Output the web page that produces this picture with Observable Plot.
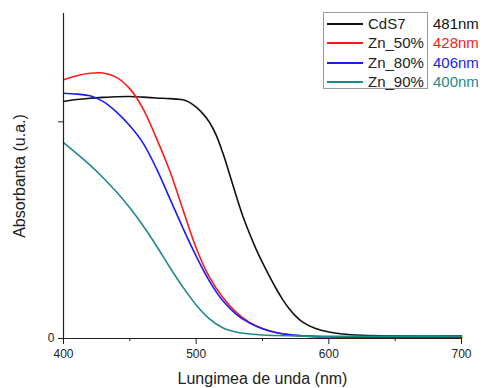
<!DOCTYPE html>
<html>
<head>
<meta charset="utf-8">
<script src="https://cdn.jsdelivr.net/npm/d3@7"></script>
<script src="https://cdn.jsdelivr.net/npm/@observablehq/plot@0.6"></script>
<style>
  html, body { margin: 0; padding: 0; background: #fff; }
  #wrap { position: relative; width: 485px; height: 388px; font-family: "Liberation Sans", Arial, sans-serif; }
  #legend { position: absolute; left: 323px; top: 12px; width: 105px; height: 77px; border: 1px solid #9a9a9a; box-sizing: border-box; }
  .row { position: absolute; left: 0; height: 19px; width: 200px; font-size: 15px; line-height: 19px; }
  .sw { position: absolute; left: 3px; top: 9px; width: 36px; height: 2px; }
  .nm { position: absolute; left: 44px; top: 0; color: #222; white-space: nowrap; }
  .pk { position: absolute; left: 109px; top: 0; white-space: nowrap; }
</style>
</head>
<body>
<div id="wrap"></div>
<script>
// Series names, colours and band-gap labels
const seriesNames = ["CdS7", "Zn_50%", "Zn_80%", "Zn_90%"];
const seriesColors = ["#111111", "#ff1a1a", "#1a1aff", "#1f8a8a"];
const peakLabels = ["481nm", "428nm", "406nm", "400nm"];

// CdS7
const wlCdS7 = [400, 410, 420, 430, 440, 450, 460, 470, 480, 490, 495, 500, 505, 510, 515, 520, 525, 530, 535, 540, 545, 550, 555, 560, 565, 570, 575, 580, 590, 600, 610, 625, 650, 700];
const absCdS7 = [1.094, 1.103, 1.109, 1.113, 1.116, 1.117, 1.114, 1.110, 1.107, 1.102, 1.090, 1.068, 1.038, 0.998, 0.940, 0.858, 0.762, 0.662, 0.568, 0.488, 0.415, 0.350, 0.290, 0.233, 0.182, 0.138, 0.103, 0.077, 0.046, 0.030, 0.021, 0.015, 0.012, 0.012];

// Zn_50%
const wlZn50 = [400, 410, 420, 430, 440, 450, 460, 470, 480, 490, 500, 510, 520, 530, 540, 550, 560, 570, 585, 600, 650, 700];
const absZn50 = [1.194, 1.213, 1.224, 1.225, 1.205, 1.152, 1.060, 0.925, 0.775, 0.595, 0.418, 0.283, 0.190, 0.122, 0.075, 0.046, 0.028, 0.017, 0.010, 0.007, 0.005, 0.005];

// Zn_80%
const wlZn80 = [400, 410, 420, 430, 440, 450, 460, 470, 480, 490, 500, 510, 520, 530, 540, 550, 560, 570, 585, 600, 650, 700];
const absZn80 = [1.132, 1.128, 1.120, 1.093, 1.045, 0.982, 0.902, 0.785, 0.648, 0.510, 0.380, 0.265, 0.175, 0.113, 0.072, 0.045, 0.028, 0.018, 0.011, 0.008, 0.007, 0.007];

// Zn_90%
const wlZn90 = [400, 410, 420, 430, 440, 450, 460, 470, 480, 490, 500, 510, 520, 530, 540, 550, 575, 600, 650, 700];
const absZn90 = [0.904, 0.853, 0.800, 0.741, 0.676, 0.603, 0.520, 0.428, 0.330, 0.237, 0.155, 0.091, 0.050, 0.030, 0.021, 0.016, 0.012, 0.010, 0.011, 0.011];

const xMajor = [400, 500, 600, 700];
const xMinor = [450, 550, 650];
const yTicks = [0, 1];

const wls = [wlCdS7, wlZn50, wlZn80, wlZn90];
const abss = [absCdS7, absZn50, absZn80, absZn90];
const rows = [];
seriesNames.forEach((s, i) => wls[i].forEach((w, j) => rows.push({series: s, wl: w, abs: abss[i][j]})));

const font = "Liberation Sans, Arial, sans-serif";
const chart = Plot.plot({
  width: 485,
  height: 388,
  marginLeft: 63,
  marginRight: 24,
  marginTop: 13,
  marginBottom: 50,
  style: {fontFamily: font, background: "#fff", color: "#222"},
  x: {domain: [400, 700]},
  y: {domain: [0, 1.5]},
  color: {domain: seriesNames, range: seriesColors},
  marks: [
    Plot.line(rows, {x: "wl", y: "abs", z: "series", stroke: "series", curve: "catmull-rom", strokeWidth: 1.6}),
    Plot.ruleX([400], {stroke: "#222", strokeWidth: 1.2}),
    Plot.ruleY([0], {stroke: "#222", strokeWidth: 1.2}),
    Plot.axisX({ticks: xMajor, tickSize: 6, tickPadding: 5, fontSize: 12, label: "Lungimea de unda (nm)", labelAnchor: "center", labelArrow: "none", labelOffset: 45, stroke: "#222"}),
    Plot.axisX({ticks: xMinor, tickSize: 3, tickFormat: () => "", label: null, stroke: "#222"}),
    Plot.axisY({ticks: yTicks, tickSize: 5, tickPadding: 4, fontSize: 12, tickFormat: d => d === 0 ? "0" : "", label: "Absorbanta (u.a.)", labelAnchor: "center", labelArrow: "none", labelOffset: 50, stroke: "#222"})
  ]
});
// make axis titles larger
chart.querySelectorAll("g[aria-label='x-axis label'], g[aria-label='y-axis label']").forEach(g => g.setAttribute("font-size", 16));
chart.querySelectorAll("g[aria-label='x-axis label'] text, g[aria-label='y-axis label'] text").forEach(t => t.setAttribute("font-size", 16));

const wrap = document.getElementById("wrap");
wrap.appendChild(chart);

const legend = document.createElement("div");
legend.id = "legend";
seriesNames.forEach((s, i) => {
  const r = document.createElement("div");
  r.className = "row";
  r.style.top = (1 + i * 19.4) + "px";
  r.innerHTML = `<div class="sw" style="background:${seriesColors[i]}"></div><span class="nm">${s}</span><span class="pk" style="color:${seriesColors[i]}">${peakLabels[i]}</span>`;
  legend.appendChild(r);
});
wrap.appendChild(legend);
</script>
</body>
</html>
